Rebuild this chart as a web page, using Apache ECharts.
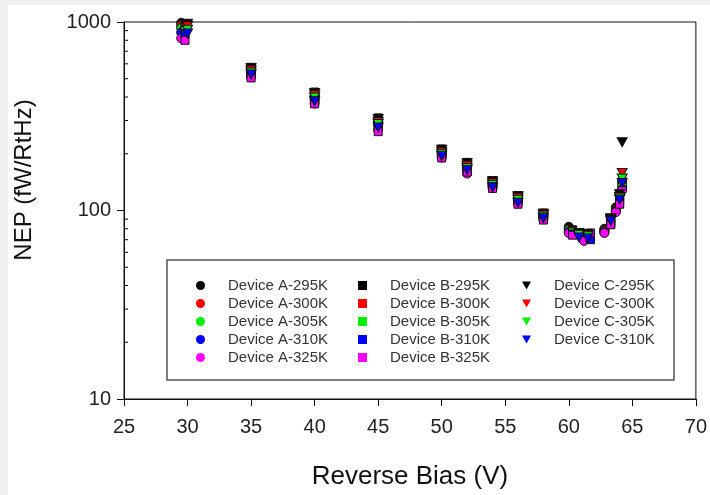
<!DOCTYPE html>
<html>
<head>
<meta charset="utf-8">
<script src="https://cdn.jsdelivr.net/npm/echarts@6/dist/echarts.min.js"></script>
<style>
html,body{margin:0;padding:0;background:#f0f0f0;}
#chart{width:710px;height:495px;}
</style>
</head>
<body>
<div id="chart"></div>
<script>
// ---- data ----
const xTicks = [25, 30, 35, 40, 45, 50, 55, 60, 65, 70];
const yTicks = [10, 100, 1000];
const yMinorTicks = [20, 30, 40, 50, 60, 70, 80, 90, 200, 300, 400, 500, 600, 700, 800, 900];

const biasA = [29.5, 35, 40, 45, 50, 52, 54, 56, 58, 60, 61.2, 62.8, 63.7, 64.2];
const biasB = [29.8, 35, 40, 45, 50, 52, 54, 56, 58, 60.3, 61.7, 63.3, 64.0];
const biasC = [30.0, 35, 40, 45, 50, 52, 54, 56, 58, 60.8, 61.5, 63.3, 64.0, 64.2];

const nepA295 = [990, 560, 415, 300, 208, 175, 142, 118, 96, 82, 74, 80, 104, 140];
const nepA300 = [960, 545, 405, 292, 203, 170, 139, 116, 94, 80, 72, 79, 102, 145];
const nepA305 = [930, 535, 395, 305, 200, 166, 137, 114, 93, 79, 71, 78, 100, 135];
const nepA310 = [880, 525, 385, 285, 196, 163, 135, 112, 92, 77, 70, 77, 99, 130];
const nepA325 = [820, 510, 370, 268, 191, 157, 132, 109, 90, 76, 69, 76, 98, 128];

const nepB295 = [970, 575, 425, 310, 212, 180, 144, 120, 97, 79, 73, 90, 120];
const nepB300 = [940, 565, 418, 298, 207, 176, 141, 118, 95, 78, 72, 88, 118];
const nepB305 = [900, 550, 400, 290, 202, 171, 138, 115, 93, 77, 71, 86, 112];
const nepB310 = [860, 530, 388, 278, 197, 167, 135, 112, 91, 75, 70, 85, 110];
const nepB325 = [800, 505, 368, 262, 190, 160, 131, 108, 89, 74, 76, 84, 108];

const nepC295 = [980, 570, 420, 305, 210, 178, 143, 119, 96, 76, 75, 91, 122, 230];
const nepC300 = [950, 555, 410, 295, 205, 173, 140, 117, 95, 75, 74, 90, 118, 158];
const nepC305 = [910, 540, 398, 288, 200, 168, 137, 114, 93, 74, 73, 89, 116, 148];
const nepC310 = [870, 527, 380, 276, 195, 164, 133, 110, 91, 72, 71, 88, 114, 140];

const namesA = ['Device A-295K', 'Device A-300K', 'Device A-305K', 'Device A-310K', 'Device A-325K'];
const namesB = ['Device B-295K', 'Device B-300K', 'Device B-305K', 'Device B-310K', 'Device B-325K'];
const namesC = ['Device C-295K', 'Device C-300K', 'Device C-305K', 'Device C-310K'];
const colors = ['#000000', '#ff0000', '#00ee00', '#0000ff', '#ff00ff'];

// ---- build ----
const downTri = 'path://M0,0 L10,0 L5,9 Z';
function pairs(xs, ys) { return ys.map((v, i) => [xs[i], v]); }
const seriesList = [];
function addSeries(names, xs, arrs, symbol, size) {
  names.forEach((n, i) => {
    seriesList.push({
      name: n,
      type: 'scatter',
      data: pairs(xs, arrs[i]),
      symbol: symbol,
      symbolSize: size,
      itemStyle: { color: colors[i], borderColor: '#111', borderWidth: 1, opacity: 1 },
      emphasis: { disabled: true }
    });
  });
}
addSeries(namesA, biasA, [nepA295, nepA300, nepA305, nepA310, nepA325], 'circle', 9);
addSeries(namesB, biasB, [nepB295, nepB300, nepB305, nepB310, nepB325], 'rect', 8);
addSeries(namesC, biasC, [nepC295, nepC300, nepC305, nepC310], downTri, [10, 9]);

// minor ticks on y axis (inside)
seriesList.push({
  type: 'custom',
  silent: true,
  data: yMinorTicks.map(v => [xTicks[0], v]),
  renderItem: function (params, api) {
    const p = api.coord([api.value(0), api.value(1)]);
    return { type: 'line', shape: { x1: p[0], y1: p[1], x2: p[0] + 4, y2: p[1] },
      style: { stroke: '#000', lineWidth: 1 } };
  },
  z: 5
});

const font = 'Liberation Sans, Arial, sans-serif';
const legendCommon = {
  orient: 'vertical',
  top: 278,
  padding: 0,
  itemWidth: 9,
  itemHeight: 9,
  itemGap: 3,
  selectedMode: false,
  textStyle: { fontFamily: font, fontSize: 15, color: '#333', padding: [0, 0, 0, 18] }
};
function legendData(names, icon) {
  return names.map(n => ({ name: n, icon: icon, itemStyle: { borderWidth: 0 } }));
}

const chart = echarts.init(document.getElementById('chart'), null, { renderer: 'canvas' });
chart.setOption({
  animation: false,
  backgroundColor: '#f0f0f0',
  graphic: [
    { type: 'rect', z: -100, shape: { x: 8, y: 5, width: 710, height: 495 }, style: { fill: '#ffffff' } },
    { type: 'rect', z: 1, shape: { x: 167, y: 260, width: 507, height: 120 }, style: { fill: 'none', stroke: '#555', lineWidth: 1.5 } },
    { type: 'text', z: 10, x: 24, y: 180, rotation: Math.PI / 2,
      style: { text: 'NEP (fW/RtHz)', fontFamily: font, fontSize: 24, fill: '#111', align: 'center', verticalAlign: 'middle' } }
  ],
  grid: { left: 124, right: 13, top: 22, bottom: 93, show: true, borderColor: '#111', borderWidth: 1, backgroundColor: 'transparent' },
  legend: [
    Object.assign({}, legendCommon, { left: 196, data: legendData(namesA, 'circle') }),
    Object.assign({}, legendCommon, { left: 358, data: legendData(namesB, 'rect') }),
    Object.assign({}, legendCommon, { left: 522, data: legendData(namesC, downTri) })
  ],
  xAxis: {
    type: 'value', min: xTicks[0], max: xTicks[xTicks.length - 1], interval: 5,
    name: 'Reverse Bias (V)', nameLocation: 'middle', nameGap: 65,
    nameTextStyle: { fontFamily: font, fontSize: 26, color: '#111' },
    axisLine: { lineStyle: { color: '#111', width: 1 } },
    axisTick: { length: 7, lineStyle: { color: '#111' } },
    axisLabel: { margin: 18, fontFamily: font, fontSize: 20, color: '#222' },
    splitLine: { show: false }
  },
  yAxis: {
    type: 'log', logBase: 10, min: yTicks[0], max: yTicks[yTicks.length - 1],
    axisLine: { show: true, lineStyle: { color: '#111', width: 1 } },
    axisTick: { show: true, length: 7, lineStyle: { color: '#111' } },
    axisLabel: { margin: 13, fontFamily: font, fontSize: 20, color: '#222', formatter: v => String(v) },
    splitLine: { show: false }
  },
  series: seriesList
});
</script>
</body>
</html>
